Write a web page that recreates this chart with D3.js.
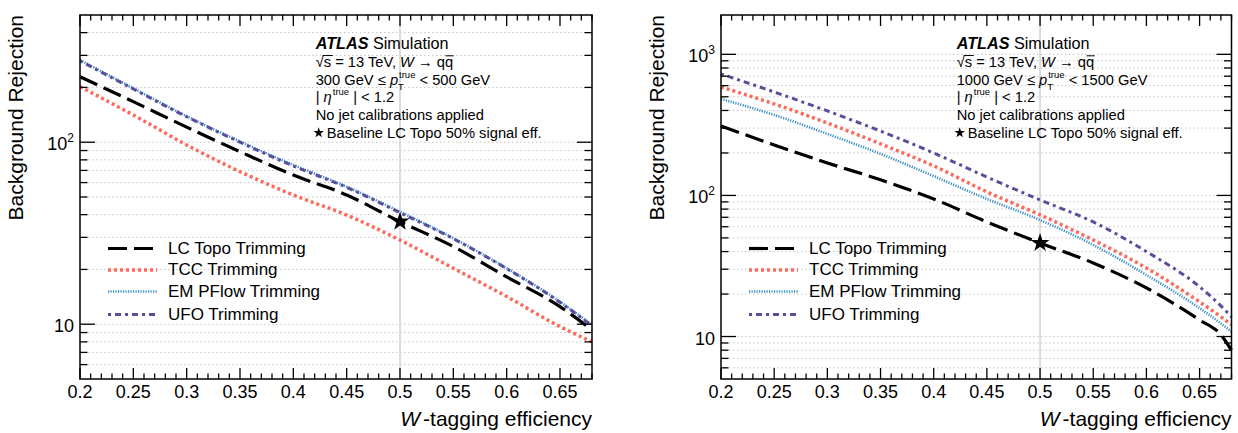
<!DOCTYPE html>
<html><head><meta charset="utf-8">
<script src="https://cdn.jsdelivr.net/npm/d3@7"></script>
<style>
body{margin:0;background:#fff;}
text{font-family:"Liberation Sans",Arial,Helvetica,sans-serif;white-space:pre;}
</style></head>
<body><svg id="c" width="1238" height="433"></svg>
<script>
// ---------- data ----------
const effL = [0.2,0.25,0.3,0.35,0.4,0.45,0.5,0.55,0.6,0.65,0.68];
const lcTopoL  = [229,167,121,88.7,66,51.3,36.6,26.7,18.2,12.5,9.3];
const tccL     = [202,141,96.6,68.9,51.3,39.8,29,20.3,14.2,9.7,8.0];
const emPflowL = [283,198,139,101,75,57,41.5,29.7,20.3,13.3,9.9];
const ufoL     = [280,196,138,100,74,56.5,41,29.5,20.2,13.2,9.8];
const starL = [0.5, 36.6];

const effR = [0.2,0.25,0.3,0.35,0.4,0.45,0.5,0.55,0.6,0.65,0.67,0.68];
const lcTopoR  = [310,228,170,129,94.4,64.9,46.0,33.2,22.1,13.1,10.3,8.0];
const tccR     = [587,445,326,232,162,106,72.8,48.3,30.6,17.6,13.8,12.1];
const emPflowR = [483,372,273,197,137,94.4,67,44.6,27.3,15.9,12.4,10.8];
const ufoR     = [726,541,397,286,200,135,92.9,64.9,40.0,22.5,16.5,13.8];
const starR = [0.5, 46.0];

const seriesNames = ["LC Topo Trimming","TCC Trimming","EM PFlow Trimming","UFO Trimming"];
const xMajorTicks = [0.2,0.25,0.3,0.35,0.4,0.45,0.5,0.55,0.6,0.65];
const xTickLabels = ["0.2","0.25","0.3","0.35","0.4","0.45","0.5","0.55","0.6","0.65"];
const ptRanges = [["300","500"],["1000","1500"]];

// ---------- styles ----------
const styles = [
  {color:"#000000", width:3.2, dash:"19,7"},
  {color:"#fb6a5a", width:3.5, dash:"3,3"},
  {color:"#3a90c6", width:2.6, dash:"1.2,1.3"},
  {color:"#5b4c9c", width:3.0, dash:"3,4,6,4"}
];

const svg = d3.select("#c");

function richLine(g, x, y, segs, size){
  let cx = x;
  segs.forEach(s=>{
    if (s.supsub){
      const a = g.append("text").attr("x",cx+1).attr("y",y-7).attr("font-size",9.5).text(s.supsub[0]);
      const b = g.append("text").attr("x",cx).attr("y",y+5).attr("font-size",9.5).text(s.supsub[1]);
      cx += Math.max(a.node().getComputedTextLength()+1, b.node().getComputedTextLength());
      return;
    }
    if (s.sup){
      const a = g.append("text").attr("x",cx+1).attr("y",y-7).attr("font-size",9.5).text(s.sup);
      cx += a.node().getComputedTextLength()+1;
      return;
    }
    const fsz = s.size || size;
    const t = g.append("text").attr("x",cx).attr("y",y).attr("font-size",fsz).text(s.t);
    if (s.i) t.attr("font-style","italic");
    if (s.b) t.attr("font-weight","bold");
    const w = t.node().getComputedTextLength();
    if (s.over){
      g.append("line").attr("x1",cx+0.5).attr("x2",cx+w+0.5).attr("y1",y-fsz*0.76).attr("y2",y-fsz*0.76)
        .attr("stroke","#000").attr("stroke-width",1);
    }
    if (s.rad){
      g.append("line").attr("x1",cx+w-1).attr("x2",cx+w+9).attr("y1",y-fsz*0.78).attr("y2",y-fsz*0.78)
        .attr("stroke","#000").attr("stroke-width",1);
    }
    cx += w;
  });
}

function panel(cfg){
  const g = svg.append("g");
  const x = d3.scaleLinear().domain([0.2,0.68]).range([cfg.x0,cfg.x1]);
  const y = d3.scaleLog().domain(cfg.yDom).range([379,15]);
  const [X0,X1,Y0,Y1] = [cfg.x0,cfg.x1,15,379];

  const yMinor=[], yMajor=[];
  for (let d=0; d<=3; d++){
    for (let m=1; m<=9; m++){
      const v = m*Math.pow(10,d);
      if (v>cfg.yDom[0]*1.001 && v<cfg.yDom[1]*0.999){ (m===1?yMajor:yMinor).push(v); }
    }
  }
  // grid
  g.selectAll(".gr").data(yMajor.concat(yMinor)).enter().append("line")
    .attr("x1",X0).attr("x2",X1).attr("y1",d=>y(d)).attr("y2",d=>y(d))
    .attr("stroke","#c4c4c4").attr("stroke-width",1).attr("stroke-dasharray","1.5,2.5");
  g.append("line").attr("x1",x(0.5)).attr("x2",x(0.5)).attr("y1",Y0).attr("y2",Y1)
    .attr("stroke","#d2d2d2").attr("stroke-width",1.5);

  // curves
  const line = d3.line().x(d=>x(d[0])).y(d=>y(d[1])).curve(d3.curveMonotoneX);
  cfg.series.forEach((vals,i)=>{
    const pts = cfg.eff.map((e,k)=>[e,vals[k]]);
    g.append("path").attr("d",line(pts)).attr("fill","none")
      .attr("stroke",styles[i].color).attr("stroke-width",styles[i].width)
      .attr("stroke-dasharray",styles[i].dash);
  });
  g.append("path").attr("d",d3.symbol(d3.symbolStar,110)())
    .attr("transform",`translate(${x(cfg.star[0])},${y(cfg.star[1])})`).attr("fill","#000");

  // axes ticks
  const xMinor = d3.range(0,49).map(i=>0.2+i*0.01).filter(v=>!xMajorTicks.some(m=>Math.abs(m-v)<1e-6));
  const tk = (x1,y1,x2,y2)=>g.append("line").attr("x1",x1).attr("y1",y1).attr("x2",x2).attr("y2",y2)
      .attr("stroke","#000").attr("stroke-width",1.3);
  xMajorTicks.forEach(v=>{ tk(x(v),Y1,x(v),Y1-11); tk(x(v),Y0,x(v),Y0+11); });
  xMinor.forEach(v=>{ tk(x(v),Y1,x(v),Y1-5.5); tk(x(v),Y0,x(v),Y0+5.5); });
  yMajor.forEach(v=>{ tk(X0,y(v),X0+15,y(v)); tk(X1,y(v),X1-15,y(v)); });
  yMinor.forEach(v=>{ tk(X0,y(v),X0+7.5,y(v)); tk(X1,y(v),X1-7.5,y(v)); });

  // frame
  g.append("rect").attr("x",X0).attr("y",Y0).attr("width",X1-X0).attr("height",Y1-Y0)
    .attr("fill","none").attr("stroke","#000").attr("stroke-width",1.5);

  // x labels
  g.selectAll(".xl").data(xMajorTicks).enter().append("text")
    .attr("x",d=>x(d)).attr("y",397.5).attr("text-anchor","middle").attr("font-size",18)
    .text((d,i)=>xTickLabels[i]);
  // y labels
  yMajor.forEach(v=>{
    const e = Math.round(Math.log10(v));
    const t = g.append("text").attr("x",X0-6).attr("y",y(v)+8).attr("text-anchor","end").attr("font-size",18);
    t.append("tspan").text("10");
    if (e>1) t.append("tspan").attr("font-size",12).attr("dy",-8).text(String(e));
  });
  // titles
  const xt = g.append("text").attr("x",X1).attr("y",425.5).attr("text-anchor","end").attr("font-size",21);
  xt.append("tspan").attr("font-style","italic").text("W");
  xt.append("tspan").attr("dx",3).text("-tagging efficiency");
  g.append("text").attr("transform",`translate(${X0-57},15) rotate(-90)`).attr("text-anchor","end")
    .attr("font-size",21).text("Background Rejection");

  // annotation
  const ax = cfg.annX, fs = 14.7, lh = 17.7, by = 49.3;
  richLine(g, ax, by, [{t:"ATLAS",b:true,i:true,size:16.2},{t:" Simulation",size:16.2}], fs);
  richLine(g, ax, by+lh, [{t:"√",rad:true},{t:"s"},{t:" = 13 TeV, "},{t:"W",i:true},{t:" → q"},{t:"q",over:true}], fs);
  richLine(g, ax, by+2*lh, [{t:cfg.pt[0]+" GeV ≤ "},{t:"p",i:true},{supsub:["true","T"]},{t:" < "+cfg.pt[1]+" GeV"}], fs);
  richLine(g, ax, by+3*lh, [{t:"| "},{t:"η",i:true},{sup:"true"},{t:" | < 1.2"}], fs);
  richLine(g, ax, by+4*lh, [{t:"No jet calibrations applied"}], fs);
  g.append("path").attr("d",d3.symbol(d3.symbolStar,34)())
    .attr("transform",`translate(${ax+3},${by+5*lh-5})`).attr("fill","#000");
  richLine(g, ax+11, by+5*lh, [{t:"Baseline LC Topo 50% signal eff."}], fs);

  // legend
  const lx = X0+28, rows=[248.5,270,291.5,314.5];
  seriesNames.forEach((n,i)=>{
    g.append("line").attr("x1",lx).attr("x2",lx+49).attr("y1",rows[i]).attr("y2",rows[i])
      .attr("stroke",styles[i].color).attr("stroke-width",styles[i].width).attr("stroke-dasharray",styles[i].dash);
    g.append("text").attr("x",lx+60).attr("y",rows[i]+5).attr("font-size",17).text(n);
  });
}

panel({x0:80, x1:592, yDom:[5,500], eff:effL, series:[lcTopoL,tccL,emPflowL,ufoL], star:starL, annX:315.7, pt:ptRanges[0]});
panel({x0:721, x1:1231.5, yDom:[5,1900], eff:effR, series:[lcTopoR,tccR,emPflowR,ufoR], star:starR, annX:956.7, pt:ptRanges[1]});
</script></body></html>
